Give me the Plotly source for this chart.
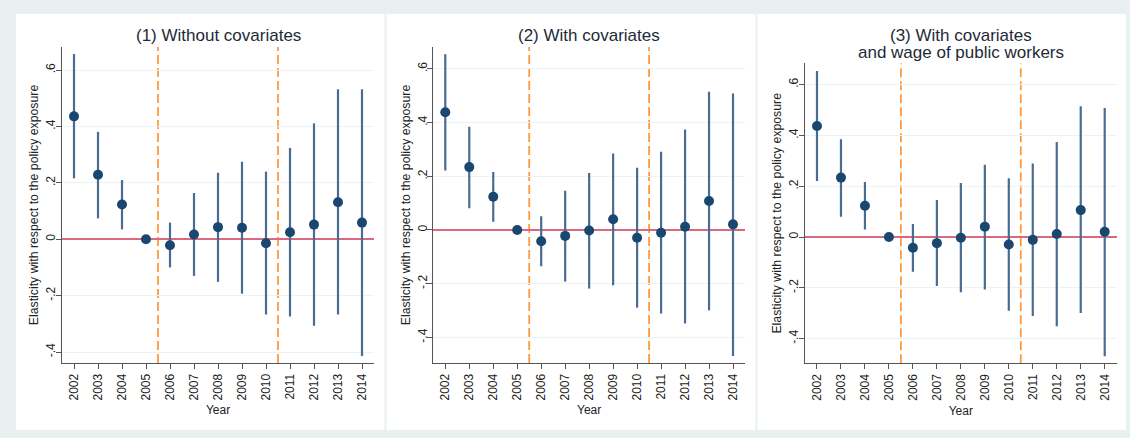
import plotly.graph_objects as go

W, H = 1130, 438

years = [2002, 2003, 2004, 2005, 2006, 2007, 2008, 2009, 2010, 2011, 2012, 2013, 2014]
year_labels = [str(y) for y in years]

# (1) Without covariates
coef1 = [0.436, 0.229, 0.123, 0.0, -0.021, 0.017, 0.043, 0.041, -0.014, 0.025, 0.052, 0.131, 0.059]
hi1 = [0.657, 0.381, 0.210, 0.0, 0.059, 0.164, 0.236, 0.275, 0.240, 0.324, 0.411, 0.532, 0.532]
lo1 = [0.216, 0.074, 0.035, 0.0, -0.100, -0.130, -0.151, -0.193, -0.267, -0.274, -0.307, -0.267, -0.414]

# (2) With covariates
coef2 = [0.438, 0.234, 0.124, 0.0, -0.042, -0.022, -0.002, 0.040, -0.029, -0.010, 0.012, 0.108, 0.021]
hi2 = [0.654, 0.384, 0.216, 0.0, 0.051, 0.146, 0.212, 0.285, 0.232, 0.291, 0.374, 0.514, 0.508]
lo2 = [0.221, 0.081, 0.031, 0.0, -0.135, -0.192, -0.218, -0.206, -0.289, -0.311, -0.348, -0.299, -0.469]

# (3) With covariates and wage of public workers
coef3 = [0.437, 0.234, 0.123, 0.0, -0.042, -0.024, -0.003, 0.041, -0.029, -0.011, 0.012, 0.106, 0.021]
hi3 = [0.654, 0.385, 0.217, 0.0, 0.051, 0.146, 0.213, 0.285, 0.231, 0.290, 0.374, 0.515, 0.508]
lo3 = [0.221, 0.080, 0.030, 0.0, -0.137, -0.193, -0.217, -0.206, -0.290, -0.311, -0.351, -0.299, -0.469]

titles = [["(1) Without covariates"], ["(2) With covariates"],
          ["(3) With covariates", "and wage of public workers"]]
y_ticks = [-0.4, -0.2, 0.0, 0.2, 0.4, 0.6]
y_tick_text = ["-.4", "-.2", "0", ".2", ".4", ".6"]
policy_breaks = [2005.5, 2010.5]
ytitle = "Elasticity with respect to the policy exposure"

series = [(coef1, lo1, hi1), (coef2, lo2, hi2), (coef3, lo3, hi3)]

# pixel geometry of each plot area: (left, right, top, bottom)
areas = [(62, 374, 47, 363), (433.3, 745, 47, 363), (805, 1116.7, 63.3, 363.3)]
yranges = [(-0.439, 0.682), (-0.495, 0.681), (-0.497, 0.684)]

FONT = "Liberation Sans, Arial, sans-serif"
NAVY = "#1a476f"
CI = "#4a6c90"
BG = "#e9f0f2"

fig = go.Figure()
layout = dict(
    width=W, height=H, autosize=False,
    margin=dict(l=0, r=0, t=0, b=0),
    paper_bgcolor=BG, plot_bgcolor="white",
    showlegend=False,
    font=dict(family=FONT, size=12, color="#222"),
)
shapes = [
    dict(type="rect", xref="paper", yref="paper", x0=16 / W, x1=1126 / W,
         y0=1 - 430 / H, y1=1 - 14 / H, fillcolor="white", line=dict(width=0), layer="below"),
]
for sx in (385.5, 756.5):
    shapes.append(dict(type="line", xref="paper", yref="paper", x0=sx / W, x1=sx / W,
                       y0=1 - 430 / H, y1=1 - 14 / H, line=dict(color=BG, width=2), layer="below"))
annotations = []

for i, ((c, lo, hi), (l, r, t, b), yr, ttl) in enumerate(zip(series, areas, yranges, titles)):
    n = "" if i == 0 else str(i + 1)
    xa, ya = "x" + n, "y" + n
    err_plus = [h - v for h, v in zip(hi, c)]
    err_minus = [v - q for v, q in zip(c, lo)]
    fig.add_trace(go.Scatter(
        x=years, y=c, xaxis=xa, yaxis=ya, mode="markers",
        marker=dict(color=NAVY, size=10),
        error_y=dict(type="data", symmetric=False, array=err_plus, arrayminus=err_minus,
                     width=0, thickness=2.2, color=CI),
        hoverinfo="x+y",
    ))
    layout["xaxis" + n] = dict(
        domain=[l / W, r / W], range=[2001.5, 2014.5], anchor=ya, automargin=False,
        tickmode="array", tickvals=years, ticktext=year_labels, tickangle=-90,
        ticks="outside", ticklen=5, tickcolor="#555", tickwidth=1,
        showline=True, linecolor="#555", linewidth=1, showgrid=False, zeroline=False,
        tickfont=dict(size=12, color="#222", family=FONT),
        title=dict(text="Year", font=dict(size=12, color="#222", family=FONT), standoff=6),
    )
    layout["yaxis" + n] = dict(
        domain=[1 - b / H, 1 - t / H], range=list(yr), anchor=xa, automargin=False,
        tickmode="array", tickvals=y_ticks, ticktext=y_tick_text, tickangle=-90,
        ticks="outside", ticklen=5, tickcolor="#555", tickwidth=1, ticklabelstandoff=-4,
        showline=True, linecolor="#555", linewidth=1,
        showgrid=True, gridcolor="#edf3f4", gridwidth=1,
        zeroline=True, zerolinecolor="#d9697f", zerolinewidth=2,
        tickfont=dict(size=12, color="#222", family=FONT),
        title=dict(text=ytitle, font=dict(size=12.3, color="#222", family=FONT), standoff=2),
    )
    for pb in policy_breaks:
        shapes.append(dict(type="line", xref=xa, yref=ya, x0=pb, x1=pb, y0=yr[0], y1=yr[1],
                           line=dict(color="#ff9a3c", width=1.8, dash="9px,4px"), layer="below"))
    for k, line in enumerate(ttl):
        ty = 35 + 17.3 * k
        annotations.append(dict(text=line, xref="paper", yref="paper",
                                x=(l + r) / 2 / W, y=1 - ty / H, xanchor="center", yanchor="middle",
                                showarrow=False, font=dict(size=17, color="#1e2a38", family=FONT)))

layout["shapes"] = shapes
layout["annotations"] = annotations
fig.update_layout(**layout)
fig.write_html(
    "out.html",
    config={"displayModeBar": False},
    post_script="document.body.style.margin='0';document.body.style.padding='0';"
                "document.body.style.overflow='hidden';",
)
